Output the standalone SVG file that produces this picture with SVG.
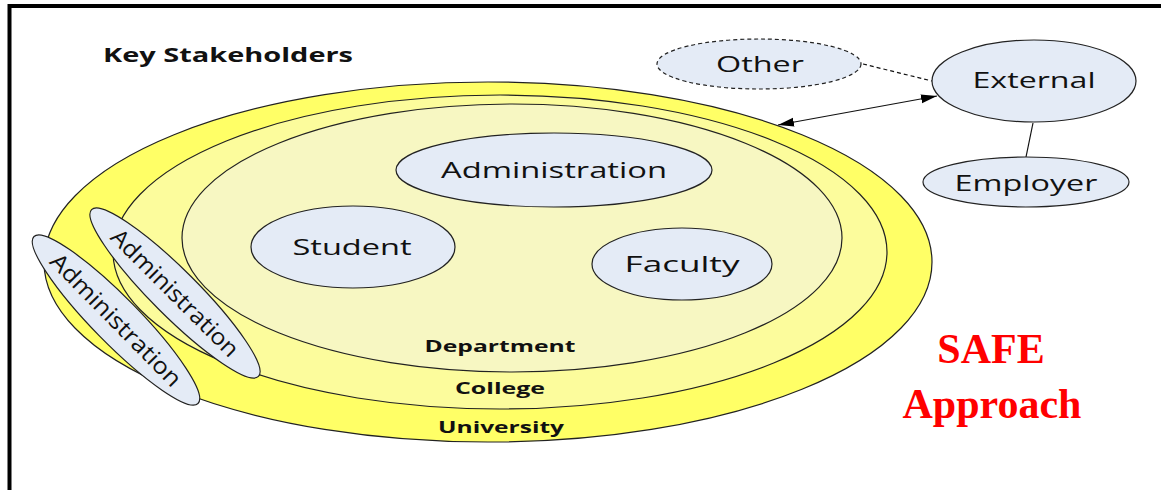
<svg xmlns="http://www.w3.org/2000/svg" width="1161" height="490" viewBox="0 0 1161 490">
<defs>
<style>
.ring{stroke:#222;stroke-width:1.2}
.node{fill:#E4EBF6;stroke:#222;stroke-width:1.2}
.lbl{font-family:"Open Sans","Liberation Sans",sans-serif;font-size:21px;fill:#111;text-anchor:middle}
.rot{font-size:23px}
.bold{font-family:"Open Sans","Liberation Sans",sans-serif;font-weight:bold;fill:#111}
.conn{stroke:#111;stroke-width:1.2;fill:none}
</style>
<marker id="ah" markerUnits="userSpaceOnUse" markerWidth="18" markerHeight="10" refX="16" refY="4.5" orient="auto-start-reverse">
<path d="M0,0 L16,4.5 L0,9 z" fill="#000"/>
</marker>
</defs>
<rect width="1161" height="490" fill="#fff"/>
<path d="M9.5,490 V6 H1161" fill="none" stroke="#000" stroke-width="4"/>
<text class="bold" x="103" y="62" font-size="20" textLength="250" lengthAdjust="spacingAndGlyphs">Key Stakeholders</text>

<g id="university">
<ellipse class="ring" cx="488" cy="262" rx="444" ry="180" fill="#FFFF66"/>
</g>
<g id="college">
<ellipse class="ring" cx="500" cy="252" rx="387" ry="157" fill="#FCFC9C"/>
</g>
<g id="department">
<ellipse class="ring" cx="512" cy="238" rx="330" ry="134" fill="#F7F7C2"/>
</g>
<text class="bold" x="500" y="352" font-size="16.5" text-anchor="middle" textLength="151" lengthAdjust="spacingAndGlyphs">Department</text>
<text class="bold" x="500" y="394" font-size="16.5" text-anchor="middle" textLength="90" lengthAdjust="spacingAndGlyphs">College</text>
<text class="bold" x="501" y="433" font-size="16.5" text-anchor="middle" textLength="126" lengthAdjust="spacingAndGlyphs">University</text>

<g id="administration">
<ellipse class="node" cx="554" cy="170" rx="158" ry="37"/>
<text class="lbl" x="554" y="178" textLength="226" lengthAdjust="spacingAndGlyphs">Administration</text>
</g>
<g id="student">
<ellipse class="node" cx="353" cy="247" rx="102" ry="41"/>
<text class="lbl" x="352" y="255" textLength="119" lengthAdjust="spacingAndGlyphs">Student</text>
</g>
<g id="faculty">
<ellipse class="node" cx="682" cy="264" rx="90" ry="36"/>
<text class="lbl" x="682" y="272" textLength="115" lengthAdjust="spacingAndGlyphs">Faculty</text>
</g>
<g id="college-admin" transform="translate(175,293) rotate(45)">
<ellipse class="node" cx="0" cy="0" rx="118" ry="23"/>
<text class="lbl rot" x="0" y="8" textLength="170" lengthAdjust="spacingAndGlyphs">Administration</text>
</g>
<g id="university-admin" transform="translate(116,320) rotate(45.5)">
<ellipse class="node" cx="0" cy="0" rx="117" ry="23"/>
<text class="lbl rot" x="0" y="8" textLength="176" lengthAdjust="spacingAndGlyphs">Administration</text>
</g>

<g id="connectors">
<line class="conn" x1="863" y1="64" x2="932" y2="81" stroke-dasharray="4,3"/>
<line class="conn" x1="1033" y1="123" x2="1026" y2="157"/>
<line class="conn" x1="778" y1="125" x2="937" y2="96" marker-start="url(#ah)" marker-end="url(#ah)"/>
</g>

<g id="other">
<ellipse class="node" cx="759" cy="64" rx="102" ry="25" stroke-dasharray="4,3"/>
<text class="lbl" x="760" y="72" textLength="88" lengthAdjust="spacingAndGlyphs">Other</text>
</g>
<g id="external">
<ellipse class="node" cx="1034" cy="81" rx="102" ry="41"/>
<text class="lbl" x="1034" y="88" textLength="123" lengthAdjust="spacingAndGlyphs">External</text>
</g>
<g id="employer">
<ellipse class="node" cx="1026" cy="182" rx="103" ry="25"/>
<text class="lbl" x="1026" y="191" textLength="143" lengthAdjust="spacingAndGlyphs">Employer</text>
</g>

<g id="safe" font-family="'Liberation Serif','Times New Roman',serif" font-weight="bold" font-size="42" fill="#FF0000" text-anchor="middle">
<text x="991" y="363">SAFE</text>
<text x="992" y="418">Approach</text>
</g>
</svg>
